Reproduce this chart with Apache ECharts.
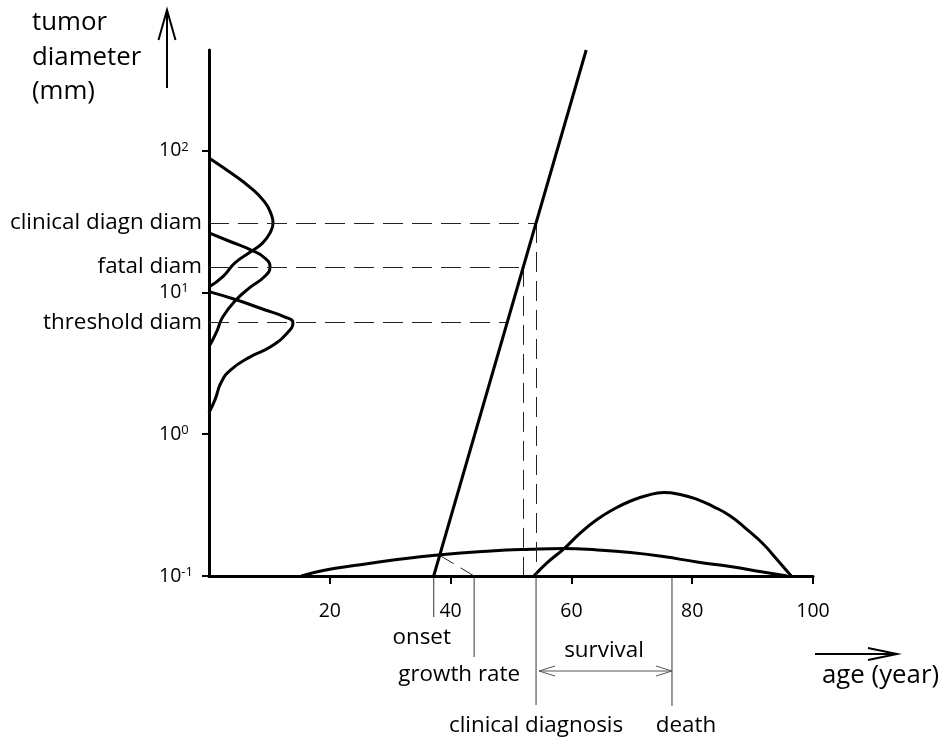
<!DOCTYPE html>
<html><head><meta charset="utf-8">
<script src="https://cdn.jsdelivr.net/npm/echarts@6/dist/echarts.min.js"></script>
<style>html,body{margin:0;padding:0;background:#fff}#c{width:945px;height:738px}</style>
</head><body><div id="c"></div>
<script>
// ---------------- data ----------------
const ageTicks = [20, 40, 60, 80, 100];
const diameterTicks = [0.1, 1, 10, 100];
// tumour growth line: [age (year), diameter (mm)]
const growthLine = [[37.2, 0.1], [62.45, 510]];
const clinicalDiagDiam = 30.8;
const fatalDiam = 15.1;
const thresholdDiam = 6.1;
const growthRateAge = 43.9;
const deathAge = 76.65;
// dashed growth-rate marker: [age, diameter]
const growthRateDash = [[38.1, 0.1406], [43.9, 0.1]];
// onset-age distribution along the age axis: [age, relative density]
const onsetDensity = [[15.3,0],[19.1,1.08],[24.7,2.09],[30.2,2.98],[37.9,3.99],[46.7,4.75],[53.3,5.08],[58.7,5.21],[64.3,4.94],[69.8,4.45],[75.2,3.69],[80.8,2.66],[86.3,1.79],[91.7,0.76],[95.7,0]];
// death-age distribution along the age axis: [age, relative density]
const deathDensity = [[53.8,0],[56.0,2.53],[58.8,5.21],[61.5,8.2],[64.3,10.78],[67.0,12.7],[69.8,14.26],[72.5,15.3],[75.3,15.86],[78.0,15.5],[80.8,14.58],[83.5,13.2],[86.3,11.41],[89.0,8.9],[91.8,6.03],[94.0,3.17],[96.4,0]];
// diameter distributions along the diameter axis: [relative density, diameter (mm)]
const clinicalDiamDensity = [[0,88.5],[3.6,69.5],[6.9,54.5],[9.2,43.4],[10.2,36.3],[10.6,30.8],[10.2,26.7],[8.9,22.3],[6.9,19.3],[4.3,16.1],[2.3,12.9],[0,10.9]];
const fatalDiamDensity = [[0,26.2],[3.6,22.7],[6.9,19.9],[9.2,17.5],[10.1,15.1],[9.2,12.9],[6.9,10.9],[4.5,8.85],[2.3,6.71],[1.2,5.19],[0,4.13]];
const thresholdDiamDensity = [[0,10.1],[4.5,8.85],[9.2,7.53],[12.5,6.71],[13.9,6.10],[13.0,5.19],[10.2,4.13],[6.9,3.52],[3.6,2.84],[2.0,2.31],[1.0,1.75],[0,1.42]];

// ---------------- helpers ----------------
const FONT = '"Open Sans", "Noto Sans", sans-serif';
const LABEL_SIZE = 22.4, TITLE_SIZE = 25.8, TICK_SIZE = 19.5;
function ageAtDiameter(d) {
  const [a0, d0] = growthLine[0], [a1, d1] = growthLine[1];
  return a0 + (a1 - a0) * (Math.log10(d) - Math.log10(d0)) / (Math.log10(d1) - Math.log10(d0));
}
const onsetAge = growthLine[0][0];
const diagnosisAge = ageAtDiameter(clinicalDiagDiam);
const fatalAge = ageAtDiameter(fatalDiam);
const thresholdAge = ageAtDiameter(thresholdDiam);
const minDiam = diameterTicks[0];

const dashStyle = { color: '#222', width: 1, type: [20, 9] };
function hLine(d, age, name) {
  return [{ coord: [0, d], name: name, label: { show: true, formatter: name } }, { coord: [age, d] }];
}
function vLine(age, d) {
  return [{ coord: [age, d], label: { show: false } }, { coord: [age, minDiam] }];
}
const curveStyle = { color: '#000', width: 3 };

const chart = echarts.init(document.getElementById('c'), null, { renderer: 'canvas' });
const option = {
  animation: false,
  backgroundColor: '#fff',
  grid: { left: 209, right: 132, top: 50, bottom: 162 },
  xAxis: [
    { type: 'value', min: 0, max: 100,
      axisLine: { show: true, onZero: false, lineStyle: { color: '#000', width: 3 } },
      axisTick: { show: true, customValues: ageTicks, length: 8, lineStyle: { color: '#000', width: 2 } },
      axisLabel: { customValues: ageTicks, fontSize: TICK_SIZE, fontFamily: FONT, color: '#000', margin: 25 },
      splitLine: { show: false } },
    { type: 'value', min: 0, max: 100, show: false, splitLine: { show: false } }
  ],
  yAxis: [
    { type: 'log', logBase: 10, min: minDiam, max: 510,
      axisLine: { show: true, onZero: false, lineStyle: { color: '#000', width: 3 } },
      axisTick: { show: true, customValues: diameterTicks, length: 7, lineStyle: { color: '#000', width: 2 } },
      axisLabel: { customValues: diameterTicks, align: 'left', margin: 50, color: '#000',
        formatter: function (v) { const e = Math.round(Math.log10(v)); return '{b|10}{s|' + (e < 0 ? '-' : '') + Math.abs(e) + '}'; },
        rich: { b: { fontSize: TICK_SIZE, fontFamily: FONT, color: '#000' }, s: { fontSize: 13, fontFamily: FONT, color: '#000', verticalAlign: 'top' } } },
      splitLine: { show: false } },
    { type: 'value', min: 0, max: 100, show: false, splitLine: { show: false } }
  ],
  series: [
    { type: 'line', name: 'growth', xAxisIndex: 0, yAxisIndex: 0, data: growthLine, symbol: 'none', clip: false,
      lineStyle: curveStyle, z: 5,
      markLine: { silent: true, symbol: ['none', 'none'], lineStyle: dashStyle, animation: false,
        label: { show: true, position: 'start', distance: 7, fontSize: LABEL_SIZE, fontFamily: FONT, color: '#000' },
        data: [
          hLine(clinicalDiagDiam, diagnosisAge, 'clinical diagn diam'),
          hLine(fatalDiam, fatalAge, 'fatal diam'),
          hLine(thresholdDiam, thresholdAge, 'threshold diam'),
          vLine(fatalAge, fatalDiam),
          vLine(diagnosisAge, clinicalDiagDiam)
        ] } },
    { type: 'line', name: 'growth rate', xAxisIndex: 0, yAxisIndex: 0, data: growthRateDash, symbol: 'none', clip: false,
      lineStyle: { color: '#222', width: 1, type: [17, 8] } },
    { type: 'line', name: 'onset', xAxisIndex: 0, yAxisIndex: 1, data: onsetDensity, symbol: 'none', smooth: 0.5, clip: false, lineStyle: curveStyle },
    { type: 'line', name: 'death', xAxisIndex: 0, yAxisIndex: 1, data: deathDensity, symbol: 'none', smooth: 0.5, clip: false, lineStyle: curveStyle },
    { type: 'line', name: 'clinical diam', xAxisIndex: 1, yAxisIndex: 0, data: clinicalDiamDensity, symbol: 'none', smooth: 0.5, clip: false, lineStyle: curveStyle },
    { type: 'line', name: 'fatal diam', xAxisIndex: 1, yAxisIndex: 0, data: fatalDiamDensity, symbol: 'none', smooth: 0.5, clip: false, lineStyle: curveStyle },
    { type: 'line', name: 'threshold diam', xAxisIndex: 1, yAxisIndex: 0, data: thresholdDiamDensity, symbol: 'none', smooth: 0.5, clip: false, lineStyle: curveStyle }
  ]
};
chart.setOption(option);

// ---------------- annotations below the axis ----------------
function px(age) { return chart.convertToPixel({ xAxisIndex: 0 }, age); }
const axisY = chart.convertToPixel({ yAxisIndex: 0 }, minDiam);
const gray = '#555';
function gline(x1, y1, x2, y2, color, w) {
  return { type: 'line', silent: true, shape: { x1: x1, y1: y1, x2: x2, y2: y2 }, style: { stroke: color, lineWidth: w } };
}
function gtext(txt, x, y, size, align, lh) {
  return { type: 'text', silent: true, x: x, y: y, style: { text: txt, fontSize: size, fontFamily: FONT, fill: '#000', align: align || 'center', verticalAlign: 'middle', lineHeight: lh } };
}
function chevron(x, y, dir, len, half, color, w) {
  return { type: 'polyline', silent: true, shape: { points: [[x - dir * len, y - half], [x, y], [x - dir * len, y + half]] }, style: { stroke: color, fill: null, lineWidth: w } };
}
const xOn = px(onsetAge), xGr = px(growthRateAge), xDx = px(diagnosisAge), xDe = px(deathAge);
const survY = 671;
const graphics = [
  gline(xOn, axisY + 1, xOn, 617, gray, 1.2),
  gline(xGr, axisY + 1, xGr, 657, gray, 1.2),
  gline(xDx, axisY + 1, xDx, 705, gray, 1.2),
  gline(xDe, axisY + 1, xDe, 706, gray, 1.2),
  gline(xDx + 3, survY, xDe, survY, gray, 1),
  chevron(xDx + 3, survY, -1, 16, 5, gray, 1),
  chevron(xDe, survY, 1, 16, 5, gray, 1),
  gtext('onset', xOn - 12, 638, LABEL_SIZE),
  gtext('growth rate', xGr - 15, 675, LABEL_SIZE),
  gtext('clinical diagnosis', xDx, 726, LABEL_SIZE),
  gtext('death', xDe + 14, 726, LABEL_SIZE),
  gtext('survival', (xDx + xDe) / 2, 651, LABEL_SIZE),
  // axis titles with arrows
  gtext('tumor\ndiameter\n(mm)', 32, 57.5, TITLE_SIZE, 'left', 34.5),
  gline(167, 88, 167, 11, '#000', 2),
  { type: 'polyline', silent: true, shape: { points: [[158.5, 40], [167, 10], [175.5, 40]] }, style: { stroke: '#000', fill: null, lineWidth: 2 } },
  gline(815, 654, 896, 654, '#000', 2),
  chevron(897, 654, 1, 29, 6, '#000', 2),
  gtext('age (year)', 822, 676, TITLE_SIZE, 'left')
];
chart.setOption({ graphic: graphics });
</script>
</body></html>
